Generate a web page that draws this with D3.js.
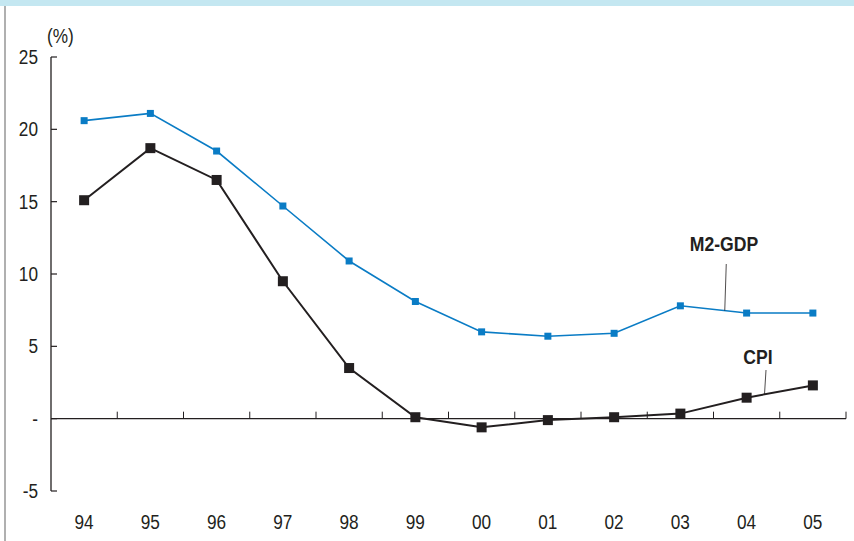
<!DOCTYPE html>
<html><head><meta charset="utf-8">
<script src="https://cdn.jsdelivr.net/npm/d3@7"></script>
<style>
body{margin:0;background:#fff;}
svg{display:block;font-family:"Liberation Sans Narrow","Liberation Sans",Arial,sans-serif;}
</style></head>
<body><svg id="c" width="854" height="541"></svg>
<script>
const years = ["94","95","96","97","98","99","00","01","02","03","04","05"];
const m2gdp = [20.6,21.1,18.5,14.7,10.9,8.1,6.0,5.7,5.9,7.8,7.3,7.3];
const cpi = [15.1,18.7,16.5,9.5,3.5,0.1,-0.6,-0.1,0.1,0.35,1.45,2.3];
const yTicks = [-5,0,5,10,15,20,25];
const yTickLabels = ["-5","-","5","10","15","20","25"];

const svg = d3.select("#c");
svg.append("rect").attr("x",0).attr("y",0).attr("width",854).attr("height",6).attr("fill","#c4e7f1");
svg.append("line").attr("x1",5).attr("x2",5).attr("y1",6).attr("y2",541).attr("stroke","#b0b0b0").attr("stroke-width",2);

const x = d3.scaleBand().domain(years).range([51,846]);
const y = d3.scaleLinear().domain([-5,25]).range([491,57]);
const cx = d => x(d) + x.bandwidth()/2;
const SX = 0.84;

function txt(tx, ty, s, anchor, size, weight){
  return svg.append("text").attr("transform",`translate(${tx},${ty}) scale(${SX},1)`)
    .attr("text-anchor",anchor).attr("font-size",size).attr("font-weight",weight||"normal")
    .attr("fill","#231f20").text(s);
}

// y axis
svg.append("line").attr("x1",51).attr("x2",51).attr("y1",y(25)).attr("y2",y(-5)).attr("stroke","#231f20").attr("stroke-width",1.3);
yTicks.forEach((t,i)=>{
  svg.append("line").attr("x1",51).attr("x2",57).attr("y1",y(t)).attr("y2",y(t)).attr("stroke","#231f20").attr("stroke-width",1.2);
  txt(38, y(t)+7, yTickLabels[i], "end", 20.5);
});
txt(47, 43, "(%)", "start", 20.5);

// zero axis
svg.append("line").attr("x1",51).attr("x2",846).attr("y1",y(0)).attr("y2",y(0)).attr("stroke","#231f20").attr("stroke-width",1.3);
years.forEach((d,i)=>{
  if(i>0){
    svg.append("line").attr("x1",x(d)).attr("x2",x(d)).attr("y1",y(0)).attr("y2",y(0)-7).attr("stroke","#231f20").attr("stroke-width",1);
  }
  txt(cx(d), 529, d, "middle", 20.5);
});
svg.append("line").attr("x1",846).attr("x2",846).attr("y1",y(0)).attr("y2",y(0)-7).attr("stroke","#231f20").attr("stroke-width",1);

const line = d3.line().x((d,i)=>cx(years[i])).y(d=>y(d));
// M2-GDP
svg.append("path").attr("d",line(m2gdp)).attr("fill","none").attr("stroke","#0a7cc5").attr("stroke-width",1.6);
svg.selectAll(".m").data(m2gdp).enter().append("rect")
  .attr("x",(d,i)=>cx(years[i])-3.5).attr("y",d=>y(d)-3.5).attr("width",7).attr("height",7).attr("fill","#0a7cc5");
// CPI
svg.append("path").attr("d",line(cpi)).attr("fill","none").attr("stroke","#231f20").attr("stroke-width",2);
svg.selectAll(".c").data(cpi).enter().append("rect")
  .attr("x",(d,i)=>cx(years[i])-5).attr("y",d=>y(d)-5).attr("width",10).attr("height",10).attr("fill","#231f20");

// labels with leaders
function leader(i0, arr, frac, topY, lx, ly, text){
  const px = cx(years[i0]) + frac*(cx(years[i0+1])-cx(years[i0]));
  const py = y(arr[i0] + frac*(arr[i0+1]-arr[i0]));
  svg.append("line").attr("x1",px).attr("y1",py).attr("x2",px+1.5).attr("y2",topY).attr("stroke","#231f20").attr("stroke-width",0.8);
  txt(lx, ly, text, "middle", 21, "bold");
}
leader(9, m2gdp, 0.67, 264, 724, 251, "M2-GDP");
leader(10, cpi, 0.27, 370, 758, 364, "CPI");
</script></body></html>
